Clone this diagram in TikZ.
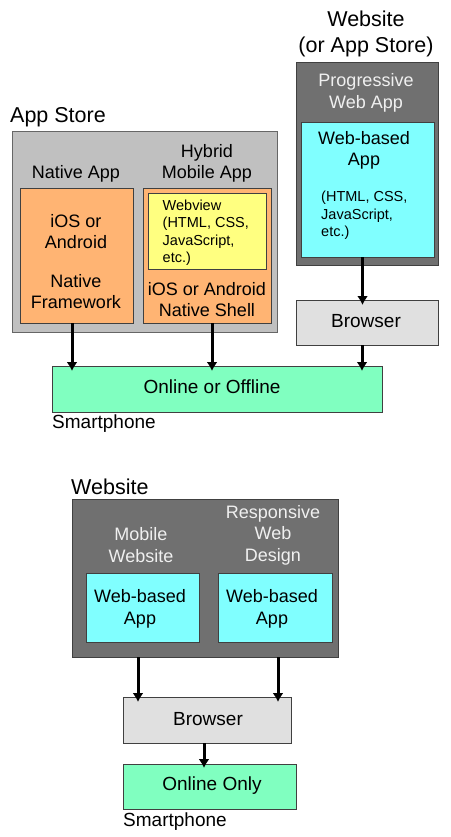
\documentclass[tikz,border=0pt]{standalone}
\usepackage{fontspec}
\setmainfont{Liberation Sans}
\usetikzlibrary{arrows.meta}
\definecolor{storegray}{HTML}{C0C0C0}
\definecolor{darkgraybox}{HTML}{707070}
\definecolor{orangebox}{HTML}{FFB473}
\definecolor{yellowbox}{HTML}{FFFF80}
\definecolor{cyanbox}{HTML}{80FFFF}
\definecolor{browserbox}{HTML}{E0E0E0}
\definecolor{mintbox}{HTML}{80FFC0}
\definecolor{lighttext}{HTML}{F0F0F0}
\begin{document}
\begin{tikzpicture}[x=1pt,y=-1pt,
  box/.style={draw=black!75, line width=0.9pt, inner sep=0pt, outer sep=0pt},
  txt/.style={font=\fontsize{18}{21.5}\selectfont, align=center, inner sep=0pt},
  wtxt/.style={font=\fontsize{19}{21.5}\selectfont, align=center, inner sep=0pt},
  bigtxt/.style={font=\fontsize{21.5}{26}\selectfont, align=center, inner sep=0pt},
  smalltxt/.style={font=\fontsize{14.5}{17.5}\selectfont, align=left, inner sep=0pt},
  arr/.style={line width=3pt, -{Latex[length=9pt,width=11pt]}, shorten >=-5pt}]
\useasboundingbox (0,0) rectangle (450,837);

% ---------- top: App Store ----------
\node[bigtxt, anchor=base west] (storelbl) at (10,123) {App Store};
\node[box, draw=black!60, fill=storegray, minimum width=265pt, minimum height=201pt] (store) at (144.5,231.5) {};
\node[txt] (nativelbl) at (76,174) {Native App};
\node[txt] (hybridlbl) at (207,163.5) {Hybrid\\Mobile App};
\node[box, fill=orangebox, minimum width=113pt, minimum height=135pt] (native) at (76.5,255.5) {};
\node[box, fill=orangebox, minimum width=128pt, minimum height=135pt] (hybrid) at (207,255.5) {};
\node[box, fill=yellowbox, minimum width=118pt, minimum height=76pt] (webview) at (207,231) {};
\node[txt] (nat1) at (76,231.5) {iOS or\\Android};
\node[txt] (nat2) at (76,291.5) {Native\\Framework};
\node[smalltxt, anchor=west] (wvtxt) at (162.5,232.5) {Webview\\(HTML, CSS,\\JavaScript,\\etc.)};
\node[txt] (shell) at (207,299.5) {iOS or Android\\Native Shell};

% ---------- top: PWA ----------
\node[bigtxt] (pwalbl) at (366,33.5) {Website\\(or App Store)};
\node[box, fill=darkgraybox, minimum width=142pt, minimum height=203pt] (pwa) at (367,163.5) {};
\node[txt, text=lighttext] (pwaname) at (366,93) {Progressive\\Web App};
\node[box, fill=cyanbox, minimum width=133pt, minimum height=135pt] (pwaapp) at (367.5,189.5) {};
\node[txt] (pwawb) at (364,150.5) {Web-based\\App};
\node[smalltxt, anchor=west] (pwatech) at (321,215.5) {(HTML, CSS,\\JavaScript,\\etc.)};
\node[box, fill=browserbox, minimum width=142pt, minimum height=45pt] (browser1) at (367,322.5) {};
\node[wtxt] (browser1t) at (366,321.5) {Browser};

% ---------- smartphone 1 ----------
\node[box, fill=mintbox, minimum width=330pt, minimum height=46pt] (online) at (217,389) {};
\node[wtxt] (onlinet) at (212,386.5) {Online or Offline};
\node[wtxt, anchor=base west] (phone1) at (52,428) {Smartphone};

\draw[arr] ([xshift=-4.5pt]native.south) -- ([xshift=-4.5pt]native.south |- online.north);
\draw[arr] ([xshift=5pt]hybrid.south) -- ([xshift=5pt]hybrid.south |- online.north);
\draw[arr] ([xshift=-5pt]pwaapp.south) -- ([xshift=-5pt]pwaapp.south |- browser1.north);
\draw[arr] ([xshift=-5pt]browser1.south) -- ([xshift=-5pt]browser1.south |- online.north);

% ---------- bottom: Website ----------
\node[bigtxt, anchor=base west] (weblbl) at (71,494) {Website};
\node[box, fill=darkgraybox, minimum width=266pt, minimum height=158pt] (website) at (205,578) {};
\node[txt, text=lighttext] (mobilelbl) at (141,545) {Mobile\\Website};
\node[txt, text=lighttext] (rwdlbl) at (273,535) {Responsive\\Web\\Design};
\node[box, fill=cyanbox, minimum width=113pt, minimum height=69pt] (appL) at (142.5,607.5) {};
\node[box, fill=cyanbox, minimum width=114pt, minimum height=69pt] (appR) at (275,607.5) {};
\node[txt] (appLt) at (140,609) {Web-based\\App};
\node[txt] (appRt) at (272,609) {Web-based\\App};
\node[box, fill=browserbox, minimum width=168pt, minimum height=46pt] (browser2) at (207,720) {};
\node[wtxt] (browser2t) at (208,719.5) {Browser};
\node[box, fill=mintbox, minimum width=173pt, minimum height=45pt] (onlyonline) at (209.5,786.5) {};
\node[wtxt] (onlyonlinet) at (212,785.5) {Online Only};
\node[wtxt, anchor=base west] (phone2) at (123,826) {Smartphone};

\draw[arr] ([xshift=-4.5pt]appL.south |- website.south) -- ([xshift=-4.5pt]appL.south |- browser2.north);
\draw[arr] ([xshift=3pt]appR.south |- website.south) -- ([xshift=3pt]appR.south |- browser2.north);
\draw[arr, shorten >=-4pt] ([xshift=-3pt]browser2.south) -- ([xshift=-3pt]browser2.south |- onlyonline.north);
\end{tikzpicture}
\end{document}
